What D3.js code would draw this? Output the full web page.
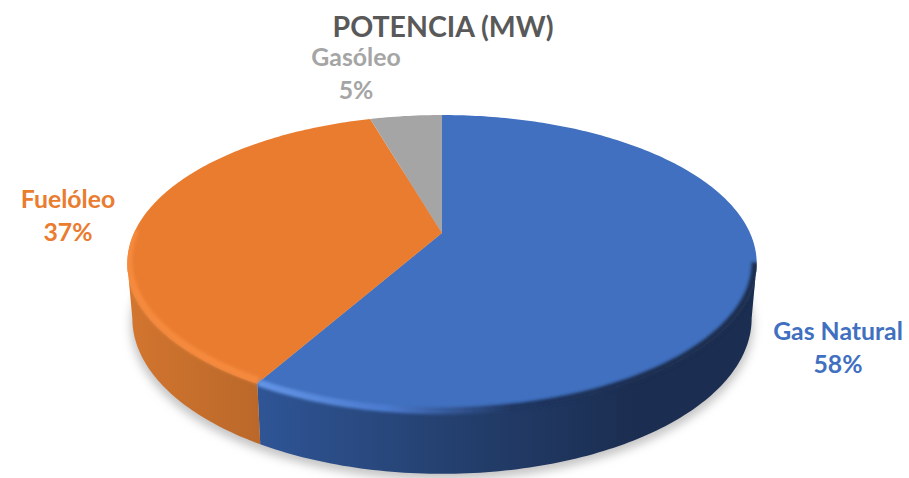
<!DOCTYPE html>
<html>
<head>
<meta charset="utf-8">
<script src="https://d3js.org/d3.v7.min.js"></script>
<style>
  html, body { margin: 0; padding: 0; background: #fff; }
  svg { display: block; }
  text { font-family: Lato, "Open Sans", sans-serif; font-weight: 700; text-anchor: middle; }
</style>
</head>
<body>
<svg id="chart" width="909" height="478"></svg>
<script>
// Chart data
var title = "POTENCIA (MW)";
var categories = ["Gas Natural", "Fuelóleo", "Gasóleo"];
var values = [58.2, 37.3, 4.5];

// Colours per category
var topColors = ["#4070bf", "#ea7c30", "#a5a5a5"];
var wallColors = [["#2f5596", "#24406f", "#1b2d50"], ["#d2752f", "#ba682a"]];
var rimColors = [["#6394e6", "#4a7ace", "#1f3560", "#1b2d50"], ["#f58a3c", "#f58a3c"]];

// Label anchors
var labelX = [838, 68, 356];
var labelY = [332, 200, 58];

var width = 909, height = 478;
var cx = 442;        // centre of the pie, horizontally
var apexY = 233;     // where the slices meet
var spreadX = 308;   // projected tilt of the disc
var spreadY = 94.4;
var tilt = -0.205;
var faceMidY = 263;  // middle of the top ellipse
var lowerMidY = 318; // middle of the bottom ellipse
var lowerScaleX = 0.984;
var lowerScaleY = 1.047;

// Angles where the disc is widest on screen, the wall is only seen between them
var sideRight = Math.acos(tilt);
var sideLeft = 2 * Math.PI - sideRight;

var svg = d3.select("#chart");
var defs = svg.append("defs");

// Circle angle to screen position, perspective from the front
function project(a, lower) {
    var u = Math.sin(a), v = -Math.cos(a);
    var d = 1 + tilt * v;
    var x = spreadX * u / d;
    var y = (spreadY * v + apexY) / d;
    if (lower) return [cx + x * lowerScaleX, lowerMidY + (y - faceMidY) * lowerScaleY];
    return [cx + x, y];
}

function arcPoints(a0, a1, lower) {
    var n = Math.max(2, Math.ceil(Math.abs(a1 - a0) * 60));
    return d3.range(n + 1).map(function(i) {
        return project(a0 + (a1 - a0) * i / n, lower);
    });
}

var line = d3.line();

var pie = d3.pie().sort(null).startAngle(0).endAngle(2 * Math.PI);
var slices = pie(values);

// Filters
defs.append("filter").attr("id", "shadowBlur")
    .attr("x", "-10%").attr("y", "-10%").attr("width", "120%").attr("height", "120%")
  .append("feGaussianBlur").attr("stdDeviation", 5);
defs.append("filter").attr("id", "rimBlur")
    .attr("x", "-5%").attr("y", "-5%").attr("width", "110%").attr("height", "110%")
  .append("feGaussianBlur").attr("stdDeviation", 1.8);

// Horizontal gradients
function gradient(id, x0, x1, colors) {
    var g = defs.append("linearGradient").attr("id", id)
        .attr("gradientUnits", "userSpaceOnUse")
        .attr("x1", x0).attr("x2", x1).attr("y1", 0).attr("y2", 0);
    colors.forEach(function(c, i) {
        g.append("stop").attr("offset", i / (colors.length - 1)).attr("stop-color", c);
    });
}
gradient("wall0", 258, 640, wallColors[0]);
gradient("wall1", 130, 260, wallColors[1]);
gradient("rim0", 258, 640, rimColors[0]);
gradient("rim1", 130, 260, rimColors[1]);

// Front part of a slice's side wall, null if the slice has none
function wallPath(d) {
    var a0 = Math.max(d.startAngle, sideRight);
    var a1 = Math.min(d.endAngle, sideLeft);
    if (a1 <= a0) return null;
    return line(arcPoints(a0, a1, false).concat(arcPoints(a0, a1, true).reverse())) + "Z";
}

// Soft shadow under the disc
svg.append("path")
    .attr("d", line(arcPoints(0, 2 * Math.PI, true).map(function(p) {
        return [cx + (p[0] - cx) * 1.005, p[1] + 6];
    })) + "Z")
    .attr("fill", "#c4c4c4")
    .attr("filter", "url(#shadowBlur)");

// Side walls
svg.selectAll(".wall")
    .data(slices.slice(0, 2))
    .enter().append("path")
    .attr("class", "wall")
    .attr("d", wallPath)
    .attr("fill", function(d, i) { return "url(#wall" + i + ")"; });

// Top faces
function facePath(d) {
    return line([[cx, apexY]].concat(arcPoints(d.startAngle, d.endAngle, false))) + "Z";
}
svg.selectAll(".face")
    .data(slices)
    .enter().append("path")
    .attr("class", "face")
    .attr("d", facePath)
    .attr("fill", function(d, i) { return topColors[i]; });

// Bevelled rim, kept inside the outline of the disc
var clip = defs.append("clipPath").attr("id", "discClip");
slices.forEach(function(d) {
    clip.append("path").attr("d", facePath(d));
    if (wallPath(d)) clip.append("path").attr("d", wallPath(d));
});

var rims = svg.append("g").attr("clip-path", "url(#discClip)");
rims.selectAll(".rim")
    .data(slices.slice(0, 2))
    .enter().append("path")
    .attr("class", "rim")
    .attr("d", function(d, i) {
        // only the part of the edge that faces the viewer
        var a0 = i === 0 ? sideRight : d.startAngle;
        var a1 = i === 0 ? d.endAngle : Math.PI * 1.5;
        var inset = i === 0 ? 1 : 3;
        return line(arcPoints(a0, a1, false).map(function(p) {
            return [cx + (p[0] - cx) * 0.995, p[1] - inset];
        }));
    })
    .attr("fill", "none")
    .attr("stroke", function(d, i) { return "url(#rim" + i + ")"; })
    .attr("stroke-width", 7)
    .attr("filter", "url(#rimBlur)");

// Title
svg.append("text")
    .attr("x", 443).attr("y", 37)
    .attr("font-size", 28.5)
    .attr("fill", "#595959")
    .text(title);

// Data labels
var labels = svg.selectAll(".label")
    .data(categories)
    .enter().append("text")
    .attr("class", "label")
    .attr("font-size", 24.8)
    .attr("fill", function(d, i) { return topColors[i]; });
labels.append("tspan")
    .attr("x", function(d, i) { return labelX[i]; })
    .attr("y", function(d, i) { return labelY[i] + 8; })
    .text(function(d) { return d; });
labels.append("tspan")
    .attr("x", function(d, i) { return labelX[i]; })
    .attr("y", function(d, i) { return labelY[i] + 41; })
    .text(function(d, i) { return Math.round(values[i]) + "%"; });
</script>
</body>
</html>
